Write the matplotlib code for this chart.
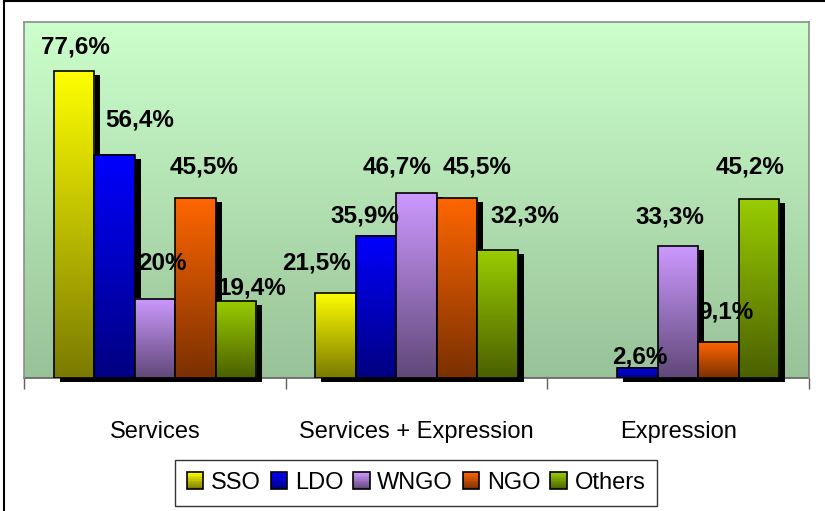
import numpy as np
import matplotlib
matplotlib.use("Agg")
import matplotlib.pyplot as plt
from matplotlib.colors import LinearSegmentedColormap
from matplotlib.patches import Rectangle, Patch
from matplotlib.legend_handler import HandlerBase
import matplotlib.transforms as mtransforms

# ---------------- data ----------------
categories = ["Services", "Services + Expression", "Expression"]
series_names = ["SSO", "LDO", "WNGO", "NGO", "Others"]
sso = [77.6, 21.5, 0.0]
ldo = [56.4, 35.9, 2.6]
wngo = [20.0, 46.7, 33.3]
ngo = [45.5, 45.5, 9.1]
others = [19.4, 32.3, 45.2]
series_values = [sso, ldo, wngo, ngo, others]

# ---------------- style ----------------
top_colors = ["#FFFF00", "#0000FF", "#CC99FF", "#FF6600", "#99CC00"]
bottom_colors = ["#7A7A00", "#000080", "#604878", "#7A3000", "#4A6000"]
# label offsets (pixels) relative to bar centre / bar top
label_dx = [[2, -19.5, 0], [25.5, -11.5, 2], [7.5, -19, -8.5], [8.5, 20.5, 7.5], [16.5, 27.5, -9]]
label_dy = [[18, 23, 0], [28, 13, 4], [29, 20, 23], [25, 25, 24], [7, 28, 26]]

plt.rcParams["font.family"] = ["Liberation Sans", "DejaVu Sans"]

W, H = 825, 511
fig = plt.figure(figsize=(W / 100, H / 100), dpi=100)
ax = fig.add_axes([24 / W, 1 - 378 / H, (809 - 24) / W, (378 - 22) / H])

# outer frame (only top and left visible in the reference)
fig.patches.append(Rectangle((4 / W, -0.05), 1.2, 1 - 1.5 / H + 0.05, transform=fig.transFigure,
                             fill=False, edgecolor="black", linewidth=1.5))

# plot-area gradient background
bg = np.linspace(0, 1, 256).reshape(-1, 1)
bg_cmap = LinearSegmentedColormap.from_list("bg", ["#98C298", "#CCFFCC"])
ax.imshow(bg, cmap=bg_cmap, extent=[0, 1, 0, 1], transform=ax.transAxes,
          aspect="auto", origin="lower", zorder=0, interpolation="bilinear")
ax.set_facecolor("none")

x = np.arange(len(categories))
width = 0.1546
shadow_tr = mtransforms.offset_copy(ax.transData, fig=fig, x=6, y=-4, units="dots")
grad = np.linspace(0, 1, 256).reshape(-1, 1)

for i, vals in enumerate(series_values):
    xs = x + (i - 2) * width
    cmap = LinearSegmentedColormap.from_list(f"c{i}", [bottom_colors[i], top_colors[i]])
    shadows = ax.bar(xs, vals, width, color="black", linewidth=0, zorder=2 + 3 * i)
    bars = ax.bar(xs, vals, width, facecolor="none", edgecolor="black", linewidth=1.2, zorder=4 + 3 * i)
    for j, (sp, bp, v) in enumerate(zip(shadows, bars, vals)):
        if v <= 0:
            sp.set_visible(False)
            bp.set_visible(False)
            continue
        sp.set_transform(shadow_tr)
        sp.set_clip_on(False)
        x0 = bp.get_x()
        ax.imshow(grad, cmap=cmap, extent=[x0, x0 + bp.get_width(), 0, v],
                  aspect="auto", origin="lower", zorder=3 + 3 * i, interpolation="bilinear")
        txt = f"{v:g}".replace(".", ",") + "%"
        ax.annotate(txt, xy=(x0 + bp.get_width() / 2, v), xytext=(label_dx[i][j], label_dy[i][j]),
                    textcoords="offset pixels", ha="center", va="baseline",
                    fontsize=17.5, fontweight="bold", color="black", zorder=40,
                    annotation_clip=False)

ax.set_xlim(-0.5, len(categories) - 0.5)
ax.set_ylim(0, 90)
ax.set_yticks([])
ax.set_xticks(x)
ax.set_xticklabels(categories, fontsize=17)
ax.set_xticks(np.arange(len(categories) + 1) - 0.5, minor=True)
ax.tick_params(axis="x", which="major", length=0, pad=31)
ax.tick_params(axis="x", which="minor", length=8, color="#606060", width=1, direction="out")
for s in ["top", "left", "right"]:
    ax.spines[s].set_color("#8C8C8C")
    ax.spines[s].set_linewidth(1.2)
ax.spines["bottom"].set_color("#606060")
ax.spines["bottom"].set_linewidth(1.2)
ax.spines["bottom"].set_zorder(1)


class GradHandler(HandlerBase):
    def __init__(self, top, bottom):
        super().__init__()
        self.top, self.bottom = top, bottom

    def create_artists(self, legend, orig_handle, xdescent, ydescent, width, height, fontsize, trans):
        cmap = LinearSegmentedColormap.from_list("h", [self.bottom, self.top])
        n = 10
        arts = []
        s = height
        x0 = -xdescent + (width - s) / 2
        y0 = -ydescent
        for k in range(n):
            arts.append(Rectangle((x0, y0 + k * s / n), s, s / n + 0.01, facecolor=cmap((k + 0.5) / n),
                                  edgecolor="none", transform=trans))
        arts.append(Rectangle((x0, y0), s, s, facecolor="none", edgecolor="black", linewidth=1.2,
                              transform=trans))
        return arts


handles = [Patch(label=n) for n in series_names]
handler_map = {h: GradHandler(top_colors[i], bottom_colors[i]) for i, h in enumerate(handles)}
leg = fig.legend(handles=handles, labels=series_names, handler_map=handler_map,
                 loc="upper center", bbox_to_anchor=(416 / W, 1 - 460 / H), ncol=5,
                 fontsize=17, frameon=True, fancybox=False, handlelength=0.7, handleheight=0.7,
                 handletextpad=0.32, columnspacing=0.42, borderpad=0.5, borderaxespad=0)
leg.get_frame().set_edgecolor("black")
leg.get_frame().set_linewidth(1.0)

fig.savefig("out.png", dpi=100)
